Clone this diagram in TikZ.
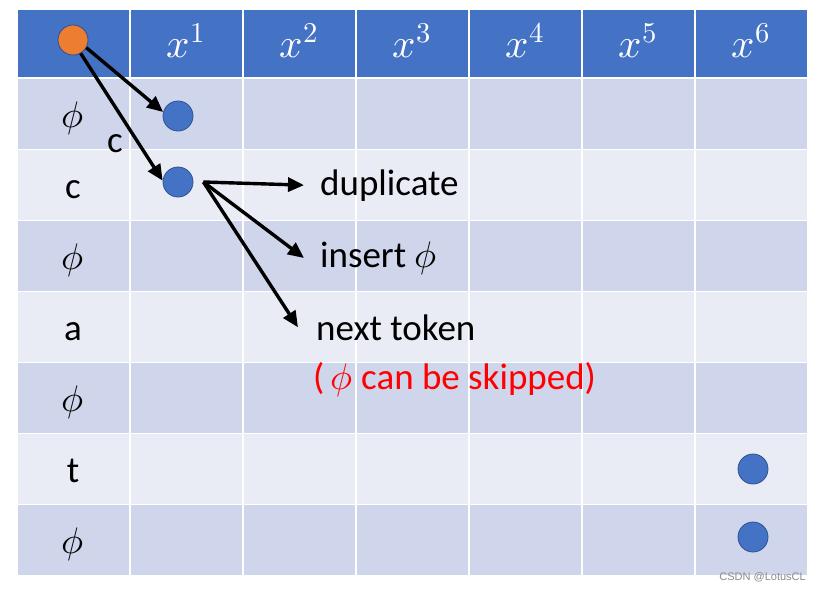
\documentclass[tikz,border=0pt]{standalone}
\usepackage{fontspec}
\usepackage{unicode-math}
\setmainfont{Carlito}
\setmathfont{Latin Modern Math}
\newfontfamily\markfont{Liberation Sans}
\usepackage{xcolor}
\usetikzlibrary{arrows.meta,positioning}
\definecolor{hdrblue}{HTML}{4472C4}
\definecolor{rowdark}{HTML}{CFD5EA}
\definecolor{rowlight}{HTML}{E9EBF5}
\definecolor{dotedge}{HTML}{2F528F}
\definecolor{dotorange}{HTML}{ED7D31}

\begin{document}
\begin{tikzpicture}[x=1pt,y=-1pt,>={Triangle[length=16pt,width=14pt]},
  dot/.style={circle,fill=#1,draw=dotedge,line width=0.8pt,minimum size=30pt,inner sep=0pt},
  arr/.style={->,line width=3.4pt},
  big/.style={font=\fontsize{37}{40}\selectfont,inner sep=0pt},
  lbl/.style={big,anchor=base west}]
\useasboundingbox (0,0) rectangle (821,589);
\fill[white] (0,0) rectangle (821,589);
% table cells
\foreach \c in {0,...,6}{
  \fill[hdrblue] (17+113*\c+1,10) rectangle (17+113*\c+112,77);
  \foreach \r in {1,3,5,7}
    \fill[rowdark] (17+113*\c+1,79+71*\r-71) rectangle (17+113*\c+112,79+71*\r-1);
  \foreach \r in {2,4,6}
    \fill[rowlight] (17+113*\c+1,79+71*\r-71) rectangle (17+113*\c+112,79+71*\r-1);
}
% header and row labels
\foreach \c in {1,...,6}
  \node[inner sep=0pt,font=\fontsize{41}{44}\selectfont,anchor=base,text=white] (h\c) at (73+113*\c,57) {$x^{\c}$};
\foreach \t [count=\r] in {$\phi$,c,$\phi$,a,$\phi$,t,$\phi$}
  \node[big,anchor=base] (r\r) at (73,127+71*\r-71) {\t};
% dots
\node[dot=dotorange] (root) at (73,40) {};
\node[dot=hdrblue] (n1) at (178,116) {};
\node[dot=hdrblue] (n2) at (178,182) {};
\node[dot=hdrblue] (n6) at (753,469) {};
\node[dot=hdrblue] (n7) at (753,537) {};
% labels
\node[lbl] (clbl) at (107,152) {c};
\node[lbl] (dup) at (320,195) {duplicate};
\node[lbl] (ins) at (320,267) {insert $\phi$};
\node[lbl] (nxt) at (316,340) {next token};
\node[lbl,text=red] (skip) at (313,389) {(\,$\phi$ can be skipped)};
\node[anchor=base east,inner sep=0pt,text=black!45,font=\markfont\fontsize{11}{12}\selectfont] (mark) at (806,580) {CSDN @LotusCL};
% arrows
\coordinate[right=10pt of n2] (fork);
\coordinate[left=16pt of dup.west] (dupin);
\coordinate[left=16pt of ins.west] (insin);
\coordinate[left=18pt of nxt.west] (nxtin);
\draw[arr] (root.-30) -- (n1.165);
\draw[arr] (root.-60) -- (n2.175);
\draw[arr] (fork) -- (dupin);
\draw[arr] (fork) -- (insin);
\draw[arr] (fork) -- (nxtin);
\end{tikzpicture}
\end{document}
